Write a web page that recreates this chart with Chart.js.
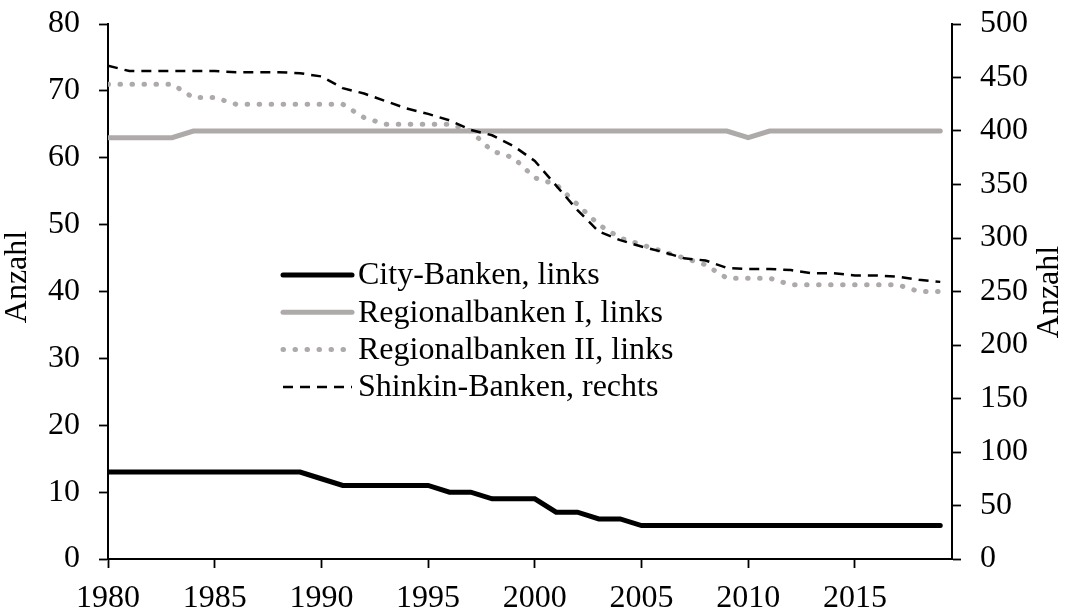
<!DOCTYPE html>
<html>
<head>
<meta charset="utf-8">
<script src="https://cdn.jsdelivr.net/npm/chart.js@4/dist/chart.umd.min.js"></script>
<style>
  html, body { margin: 0; padding: 0; background: #ffffff; }
  canvas { display: block; }
</style>
</head>
<body>
<canvas id="c" width="1067" height="612"></canvas>
<script>
// ---- Data ----
const years = [1980,1981,1982,1983,1984,1985,1986,1987,1988,1989,
               1990,1991,1992,1993,1994,1995,1996,1997,1998,1999,
               2000,2001,2002,2003,2004,2005,2006,2007,2008,2009,
               2010,2011,2012,2013,2014,2015,2016,2017,2018,2019];
const cityBanken = [13,13,13,13,13,13,13,13,13,13,
                    12,11,11,11,11,11,10,10,9,9,
                    9,7,7,6,6,5,5,5,5,5,
                    5,5,5,5,5,5,5,5,5,5];
const regionalbankenI = [63,63,63,63,64,64,64,64,64,64,
                         64,64,64,64,64,64,64,64,64,64,
                         64,64,64,64,64,64,64,64,64,64,
                         63,64,64,64,64,64,64,64,64,64];
const regionalbankenII = [71,71,71,71,69,69,68,68,68,68,
                          68,68,66,65,65,65,65,64,61,60,
                          57,56,53,50,48,47,46,45,44,42,
                          42,42,41,41,41,41,41,41,40,40];
const shinkinBanken = [461,456,456,456,456,456,455,455,455,454,
                       451,440,435,428,421,416,410,401,396,386,
                       372,349,326,306,298,292,287,281,279,272,
                       271,271,270,267,267,265,265,264,261,259];
const xTickLabels = [1980,1985,1990,1995,2000,2005,2010,2015];
const leftTicks = [0,10,20,30,40,50,60,70,80];
const rightTicks = [0,50,100,150,200,250,300,350,400,450,500];
const seriesNames = ['City-Banken, links','Regionalbanken I, links','Regionalbanken II, links','Shinkin-Banken, rechts'];
const axisTitle = 'Anzahl';

const FONT = "'Liberation Serif', 'Times New Roman', serif";
const FS = 32;
const GRAY = '#AEAAAA';

const pts = arr => years.map((y, i) => ({x: y, y: arr[i]}));

// custom legend drawn from datasets
const legendPlugin = {
  id: 'innerLegend',
  afterDraw(chart) {
    const ctx = chart.ctx;
    const x0 = 283, x1 = 352, tx = 358, y0 = 275, dy = 37.3;
    ctx.save();
    ctx.font = FS + 'px ' + FONT;
    ctx.textBaseline = 'middle';
    ctx.textAlign = 'left';
    chart.data.datasets.forEach((ds, i) => {
      const y = y0 + i * dy;
      ctx.beginPath();
      ctx.strokeStyle = ds.borderColor;
      ctx.lineWidth = ds.borderWidth;
      ctx.lineCap = ds.borderCapStyle || 'butt';
      ctx.setLineDash(ds.borderDash || []);
      ctx.moveTo(x0, y);
      ctx.lineTo(x1, y);
      ctx.stroke();
      ctx.setLineDash([]);
      ctx.fillStyle = '#000';
      ctx.fillText(ds.label, tx, y + 1);
    });
    // axis titles (both read bottom-to-top)
    [[18, 277], [1050, 292]].forEach(([x, y]) => {
      ctx.save();
      ctx.translate(x, y);
      ctx.rotate(-Math.PI / 2);
      ctx.textAlign = 'center';
      ctx.textBaseline = 'middle';
      ctx.fillText(axisTitle, 0, 0);
      ctx.restore();
    });
    ctx.restore();
  }
};

const axisGrid = {
  display: true,
  drawOnChartArea: false,
  drawTicks: true,
  tickLength: 9,
  tickWidth: 1.8,
  tickColor: '#000',
  color: '#000'
};
const axisBorder = { display: true, color: '#000', width: 2 };
const noVPad = w => s => { s.width = w; s.paddingTop = 0; s.paddingBottom = 0; };

new Chart(document.getElementById('c'), {
  type: 'line',
  data: {
    datasets: [
      { label: seriesNames[0], data: pts(cityBanken), yAxisID: 'y',
        borderColor: '#000000', borderWidth: 5, borderCapStyle: 'round', borderJoinStyle: 'miter', order: 4 },
      { label: seriesNames[1], data: pts(regionalbankenI), yAxisID: 'y',
        borderColor: GRAY, borderWidth: 5, borderCapStyle: 'round', order: 3 },
      { label: seriesNames[2], data: pts(regionalbankenII), yAxisID: 'y',
        borderColor: GRAY, borderWidth: 5, borderCapStyle: 'round', borderDash: [0.5, 11.5], order: 2 },
      { label: seriesNames[3], data: pts(shinkinBanken), yAxisID: 'y2',
        borderColor: '#000000', borderWidth: 2.5, borderCapStyle: 'butt', borderDash: [10, 7], order: 1 }
    ]
  },
  options: {
    responsive: false,
    animation: false,
    devicePixelRatio: 1,
    layout: { padding: { top: 24, right: 0, left: 0, bottom: 0 } },
    elements: { point: { radius: 0 }, line: { tension: 0, fill: false } },
    plugins: { legend: { display: false }, tooltip: { enabled: false } },
    scales: {
      x: {
        type: 'linear', min: 1980, max: 2019.55,
        afterBuildTicks: s => { s.ticks = xTickLabels.map(v => ({value: v})); },
        afterFit: s => { s.height = 53; s.paddingLeft = 0; s.paddingRight = 0; },
        ticks: { color: '#000', font: { family: FONT, size: FS }, padding: 11,
                 maxRotation: 0, autoSkip: false, callback: v => String(v) },
        grid: axisGrid, border: axisBorder
      },
      y: {
        position: 'left', min: 0, max: 80,
        afterBuildTicks: s => { s.ticks = leftTicks.map(v => ({value: v})); },
        afterFit: noVPad(108),
        ticks: { color: '#000', font: { family: FONT, size: FS }, padding: 19, callback: v => String(v) },
        grid: axisGrid, border: axisBorder
      },
      y2: {
        position: 'right', min: 0, max: 500,
        afterBuildTicks: s => { s.ticks = rightTicks.map(v => ({value: v})); },
        afterFit: noVPad(115),
        ticks: { color: '#000', font: { family: FONT, size: FS }, padding: 19, callback: v => String(v) },
        grid: axisGrid, border: axisBorder
      }
    }
  },
  plugins: [legendPlugin]
});
</script>
</body>
</html>
